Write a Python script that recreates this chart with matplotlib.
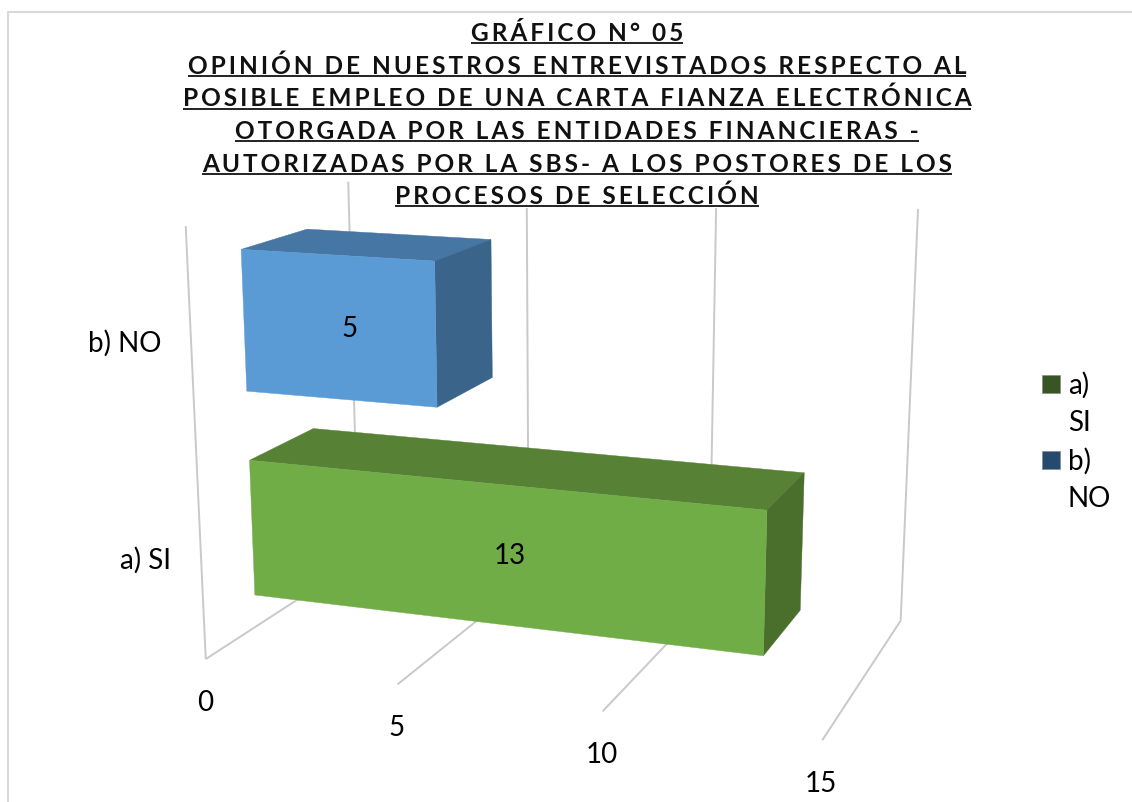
import numpy as np
import matplotlib
matplotlib.use("Agg")
import matplotlib.pyplot as plt
from matplotlib.patches import Polygon, Rectangle

plt.rcParams['font.family'] = ['Lato', 'DejaVu Sans']

categories = ['a) SI', 'b) NO']
values = [13, 5]
value_ticks = [0, 5, 10, 15]
legend_lines = [['a)', 'SI'], ['b)', 'NO']]
title_lines = [
    'GRÁFICO N° 05',
    'OPINIÓN DE NUESTROS ENTREVISTADOS RESPECTO AL',
    'POSIBLE EMPLEO DE UNA CARTA FIANZA ELECTRÓNICA',
    'OTORGADA POR LAS ENTIDADES FINANCIERAS -',
    'AUTORIZADAS POR LA SBS- A LOS POSTORES DE LOS',
    'PROCESOS DE SELECCIÓN',
]
title_base = [41, 74, 106.5, 139, 172, 204]

front_cols = ['#70AD47', '#5B9BD5']
top_cols = ['#578235', '#4676A4']
side_cols = ['#4A6E2B', '#3A6489']
swatch_cols = ['#375623', '#264A6E']
grid_col = '#C9C9C9'

# camera of the 3d box: (value, height 0-1, depth 0-1) -> pixel
calib = [
    (0, 0, 0, 205, 660), (5, 0, 0, 397, 685), (10, 0, 0, 603, 712), (15, 0, 0, 823, 741),
    (0, 0, 1, 360, 559), (5, 0, 1, 527, 583), (10, 0, 1, 710, 602), (15, 0, 1, 900, 620),
    (0, 1, 0, 186, 228), (0, 1, 1, 348, 182), (15, 1, 1, 918, 210),
]
A, b = [], []
for v, h, d, x, y in calib:
    A.append([v, h, d, 1, 0, 0, 0, 0, -x*v, -x*h, -x*d])
    A.append([0, 0, 0, 0, v, h, d, 1, -y*v, -y*h, -y*d])
    b += [x, y]
cam = np.append(np.linalg.lstsq(np.array(A, float), np.array(b, float), rcond=None)[0], 1).reshape(3, 4)


def proj(v, h, d):
    p = cam @ np.array([v, h, d, 1.0])
    return p[0]/p[2], p[1]/p[2]


fig = plt.figure(figsize=(11.32, 8.03), dpi=100)
ax = fig.add_axes([0, 0, 1, 1])
ax.set_xlim(0, 1132)
ax.set_ylim(803, 0)
ax.axis('off')

# chart frame
ax.plot([8, 8, 1132], [803, 12.5, 12.5], color='#D9D9D9', lw=1.5, zorder=1)


def gridline(a, b):
    xa, ya = proj(*a)
    xb, yb = proj(*b)
    ax.plot([xa, xb], [ya, yb], color=grid_col, lw=1.4, zorder=2, solid_capstyle='butt')


gridline((0, 0, 0), (0, 1, 0))
for t in value_ticks:
    gridline((t, 0, 0), (t, 0, 1))
    gridline((t, 0, 1), (t, 1, 1))

# bars, back ones first
n = len(categories)
thick = 1/n * (1/1.5)
d0, d1 = 0.30, 0.71
for i in reversed(range(n)):
    h0 = (i + 0.5)/n - thick/2 - 0.004
    h1 = h0 + thick
    v = values[i]
    faces = [
        ([(0, h1, d0), (v, h1, d0), (v, h1, d1), (0, h1, d1)], top_cols[i]),
        ([(v, h0, d0), (v, h0, d1), (v, h1, d1), (v, h1, d0)], side_cols[i]),
        ([(0, h0, d0), (v, h0, d0), (v, h1, d0), (0, h1, d0)], front_cols[i]),
    ]
    for pts, col in faces:
        ax.add_patch(Polygon([proj(*p) for p in pts], closed=True, fc=col, ec=col, lw=0.3, zorder=3))
    x, y = proj(v/2 + 0.3, (h0 + h1)/2, d0)
    ax.text(x, y - 1, str(v), ha='center', va='center', fontsize=20, color='black', zorder=5)
    x, y = proj(0, (i + 0.5)/n, 0)
    ax.text(x - 30, y + 4, categories[i], ha='right', va='center', fontsize=20, color='black', zorder=5)

for t in value_ticks:
    x, y = proj(t, 0, 0)
    ax.text(x - 1, y + 43, str(t), ha='center', va='center', fontsize=20, color='black', zorder=5)

# legend
for i in range(n):
    top = 376 + 76*i
    ax.add_patch(Rectangle((1042, top), 18, 18, fc=swatch_cols[i], ec='#8A8A8A', lw=0.5, zorder=5))
    for j, s in enumerate(legend_lines[i]):
        ax.text(1068, top + 9 + 38*j, s, ha='left', va='center', fontsize=20, color='black', zorder=5)

# title, letter spaced with thin spaces and underlined by hand
fig.canvas.draw()
rend = fig.canvas.get_renderer()
for s, base in zip(title_lines, title_base):
    txt = ax.text(577, base, '\u2009'.join(s), ha='center', va='baseline', fontsize=17.6, fontweight='bold',
                  color='#111111', zorder=7, bbox=dict(fc='white', ec='none', pad=1))
    box = txt.get_window_extent(rend)
    ax.plot([box.x0, box.x1], [base + 3, base + 3], color='#111111', lw=1.3, zorder=8, solid_capstyle='butt')

fig.savefig('out.png', dpi=100)
